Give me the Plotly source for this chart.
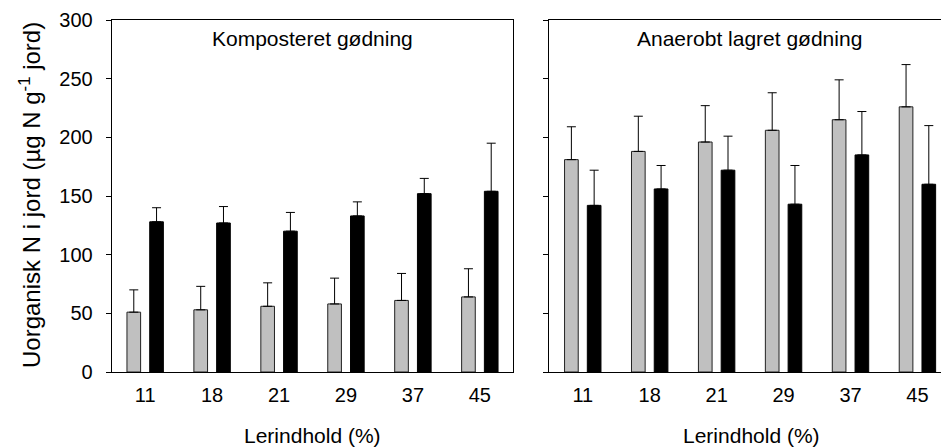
import plotly.graph_objects as go

categories = ["11", "18", "21", "29", "37", "45"]

# Komposteret gødning
komp_gray = [51, 53, 56, 58, 61, 64]
komp_gray_err = [19, 20, 20, 22, 23, 24]
komp_black = [128, 127, 120, 133, 152, 154]
komp_black_err = [12, 14, 16, 12, 13, 41]

# Anaerobt lagret gødning
anae_gray = [181, 188, 196, 206, 215, 226]
anae_gray_err = [28, 30, 31, 32, 34, 36]
anae_black = [142, 156, 172, 143, 185, 160]
anae_black_err = [30, 20, 29, 33, 37, 50]

panel_titles = ["Komposteret gødning", "Anaerobt lagret gødning"]
x_title = "Lerindhold (%)"
y_title = "Uorganisk N i jord (µg N g<sup>-1</sup> jord)"
y_ticks = [0, 50, 100, 150, 200, 250, 300]

W, H = 941, 447
FONT = "Liberation Sans, Arial, sans-serif"
FS = 20

xpos = list(range(len(categories)))
bw = 0.204
sep = 0.17

fig = go.Figure()

def add_pair(gray, gerr, black, berr, xa, ya):
    fig.add_trace(go.Bar(
        x=xpos, y=gray, xaxis=xa, yaxis=ya,
        offset=-sep - bw / 2, width=bw,
        marker=dict(color="#c0c0c0", line=dict(color="#222222", width=1)),
        error_y=dict(type="data", symmetric=False, array=gerr,
                     arrayminus=[0] * len(gerr), color="black",
                     thickness=1, width=4.5),
        showlegend=False, hoverinfo="y"))
    fig.add_trace(go.Bar(
        x=xpos, y=black, xaxis=xa, yaxis=ya,
        offset=sep - bw / 2, width=bw,
        marker=dict(color="black", line=dict(color="black", width=1)),
        error_y=dict(type="data", symmetric=False, array=berr,
                     arrayminus=[0] * len(berr), color="black",
                     thickness=1, width=4.5),
        showlegend=False, hoverinfo="y"))

add_pair(komp_gray, komp_gray_err, komp_black, komp_black_err, "x", "y")
add_pair(anae_gray, anae_gray_err, anae_black, anae_black_err, "x2", "y2")

left0, left1 = 111.7 / W, 513.3 / W
right0 = 549.3 / W
cat_px = (513.3 - 111.7) / 6
right_max = (W - 549.3) / cat_px - 0.5

axis_common = dict(showgrid=False, zeroline=False, showline=True,
                   linecolor="black", linewidth=1,
                   tickfont=dict(family=FONT, size=FS, color="black"))

fig.update_layout(
    width=W, height=H,
    margin=dict(l=0, r=0, t=20, b=75, pad=0),
    paper_bgcolor="white", plot_bgcolor="white",
    barmode="overlay",
    font=dict(family=FONT, size=FS, color="black"),
    xaxis=dict(domain=[left0, left1], range=[-0.5, 5.5], tickmode="array",
               tickvals=xpos, ticktext=categories, ticks="", mirror=True,
               ticklabelstandoff=5, **axis_common),
    yaxis=dict(domain=[0, 1], range=[0, 300], tickvals=y_ticks, ticks="outside",
               ticklen=5, tickcolor="black", mirror=True,
               ticklabelstandoff=9, **axis_common),
    xaxis2=dict(domain=[right0, 1.0], range=[-0.5, right_max], tickmode="array",
                tickvals=xpos, ticktext=categories, ticks="", mirror=True,
                anchor="y2", ticklabelstandoff=5, **axis_common),
    yaxis2=dict(domain=[0, 1], range=[0, 300], tickvals=y_ticks, ticks="outside",
                ticklen=5, tickcolor="black", showticklabels=False,
                anchor="x2", mirror=False, **axis_common),
)

PH = H - 95
ann = []
# panel titles
ann.append(dict(text=panel_titles[0], xref="paper", yref="paper",
                x=(111.7 + 513.3) / 2 / W, y=1 - (38 - 20) / PH,
                showarrow=False, xanchor="center", yanchor="middle",
                font=dict(family=FONT, size=21, color="black")))
ann.append(dict(text=panel_titles[1], xref="paper", yref="paper",
                x=749 / W, y=1 - (38 - 20) / PH,
                showarrow=False, xanchor="center", yanchor="middle",
                font=dict(family=FONT, size=21, color="black")))
# x titles
for cx in [(111.7 + 513.3) / 2, 751]:
    ann.append(dict(text=x_title, xref="paper", yref="paper",
                    x=cx / W, y=-(435 - 372) / PH,
                    showarrow=False, xanchor="center", yanchor="middle",
                    font=dict(family=FONT, size=21, color="black")))
# y title
ann.append(dict(text=y_title, xref="paper", yref="paper",
                x=30 / W, y=1 - (195 - 20) / PH, textangle=-90,
                showarrow=False, xanchor="center", yanchor="middle",
                font=dict(family=FONT, size=24, color="black")))
fig.update_layout(annotations=ann)

fig.write_html("out.html",
               config={"displayModeBar": False},
               post_script="document.body.style.margin='0';document.body.style.overflow='hidden';")
